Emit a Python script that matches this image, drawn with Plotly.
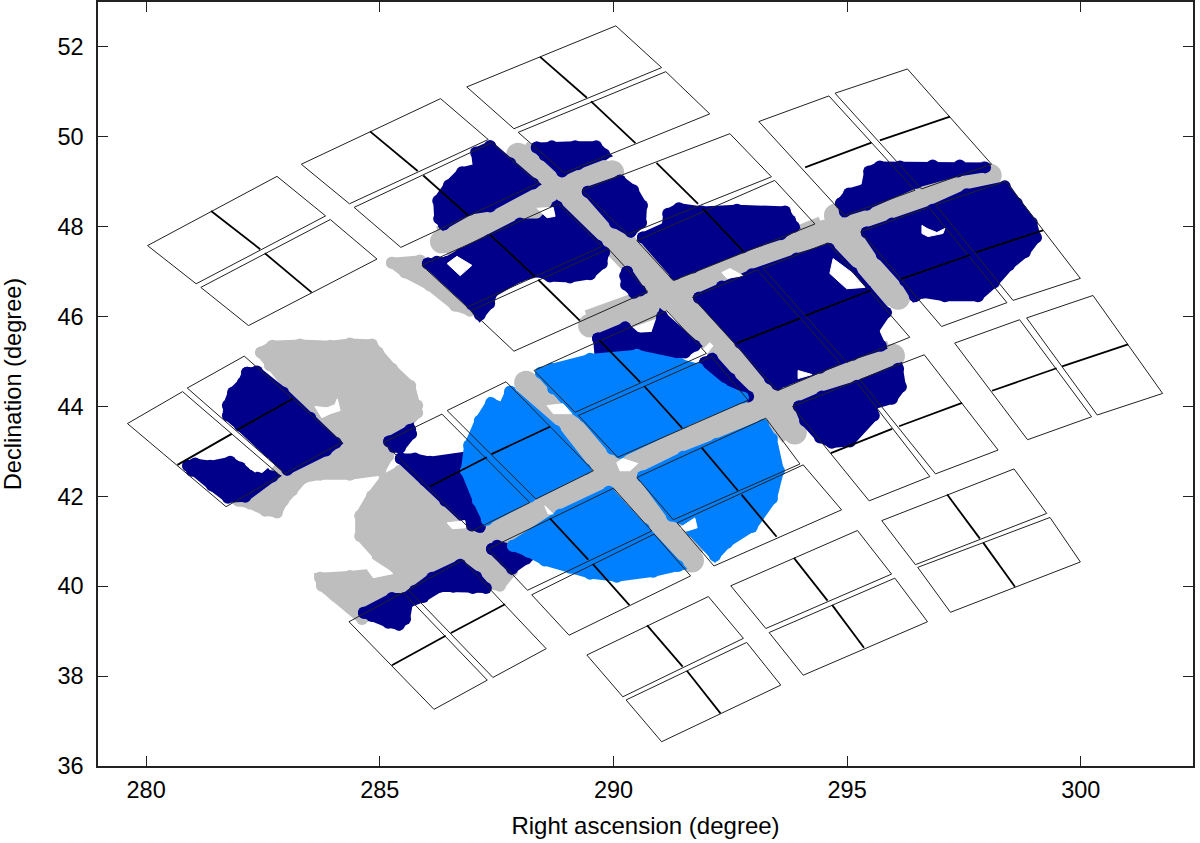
#!/usr/bin/env python3
"""Field of view sky map: CCD frames over the target samples (RA / Dec, degree)."""

import plotly.graph_objects as go

# CCD outlines, four corners each, two CCDs per module
CCD_RA = [
    [280.03, 282.80, 283.84, 281.07], [281.17, 283.94, 284.94, 282.19],
    [283.32, 286.30, 287.32, 284.35], [284.45, 287.39, 288.39, 285.45],
    [286.86, 290.05, 291.03, 287.87], [287.96, 291.12, 292.06, 288.95],
    [289.33, 292.49, 293.38, 290.30], [290.50, 293.45, 294.31, 291.28],
    [293.11, 294.61, 296.45, 294.95], [294.74, 296.29, 298.09, 296.59],
    [295.29, 296.75, 298.42, 297.02], [296.89, 298.39, 299.99, 298.55],
    [291.69, 293.08, 294.86, 293.51], [293.20, 294.59, 296.34, 294.99],
    [293.83, 295.19, 296.77, 295.47], [295.27, 296.65, 298.23, 296.89],
    [297.30, 298.69, 300.23, 298.86], [298.84, 300.26, 301.75, 300.35],
    [295.74, 298.57, 299.27, 296.46], [296.51, 299.34, 299.99, 297.21],
    [292.51, 295.22, 295.95, 293.26], [293.33, 296.02, 296.72, 294.06],
    [289.43, 292.03, 292.78, 290.20], [290.27, 292.85, 293.58, 291.03],
    [287.32, 290.00, 290.82, 288.16], [288.25, 290.87, 291.65, 289.05],
    [290.50, 293.26, 293.99, 291.28], [291.36, 294.06, 294.88, 292.15],
    [288.30, 291.14, 291.99, 289.18], [289.25, 292.10, 292.88, 290.09],
    [285.08, 286.33, 288.21, 286.97], [286.44, 287.70, 289.57, 288.34],
    [279.60, 280.78, 282.87, 281.71], [280.88, 282.10, 284.19, 282.97],
    [284.34, 285.50, 287.30, 286.16], [285.61, 286.77, 288.56, 287.42],
    [285.90, 288.82, 289.75, 286.87], [286.95, 289.89, 290.73, 287.87],
]
CCD_DEC = [
    [47.58, 49.12, 48.24, 46.73], [46.65, 48.16, 47.28, 45.80],
    [49.39, 50.85, 49.94, 48.51], [48.43, 49.87, 48.97, 47.54],
    [51.11, 52.47, 51.54, 50.18], [50.10, 51.45, 50.51, 49.20],
    [48.81, 50.07, 49.11, 47.83], [47.69, 49.03, 48.06, 46.80],
    [50.34, 50.91, 48.81, 48.25], [50.97, 51.51, 49.39, 48.84],
    [47.89, 48.43, 46.31, 45.78], [48.49, 49.01, 46.85, 46.36],
    [46.43, 47.04, 44.95, 44.35], [47.08, 47.64, 45.54, 44.98],
    [44.00, 44.56, 42.44, 41.90], [44.60, 45.15, 43.03, 42.50],
    [45.41, 45.93, 43.77, 43.26], [45.97, 46.47, 44.29, 43.81],
    [41.46, 42.61, 41.62, 40.48], [40.42, 41.53, 40.54, 39.42],
    [40.01, 41.24, 40.27, 39.06], [38.97, 40.18, 39.21, 38.02],
    [38.47, 39.77, 38.84, 37.54], [37.47, 38.75, 37.80, 36.54],
    [40.83, 42.18, 41.23, 39.91], [39.81, 41.16, 40.23, 38.91],
    [42.42, 43.74, 42.72, 41.48], [41.41, 42.70, 41.70, 40.45],
    [44.80, 46.13, 45.18, 43.87], [43.80, 45.11, 44.14, 42.87],
    [43.20, 43.83, 41.86, 41.23], [43.91, 44.55, 42.57, 41.94],
    [43.62, 44.33, 42.46, 41.77], [44.41, 45.12, 43.20, 42.51],
    [39.21, 39.86, 37.91, 37.26], [39.92, 40.58, 38.61, 37.97],
    [47.14, 48.51, 47.56, 46.21], [46.13, 47.51, 46.56, 45.23],
]

# channel boundary inside each CCD
MID_RA = [
    [281.39, 282.44], [282.54, 283.54], [284.79, 285.81], [285.93, 286.89],
    [288.43, 289.43], [289.52, 290.47], [290.92, 291.81], [291.91, 292.78],
    [294.10, 295.52], [295.70, 297.20], [296.16, 297.63], [297.75, 299.19],
    [292.64, 293.99], [294.11, 295.50], [294.65, 295.96], [296.11, 297.46],
    [298.10, 299.48], [299.60, 301.01], [297.14, 297.84], [297.91, 298.59],
    [293.86, 294.58], [294.68, 295.36], [290.72, 291.48], [291.57, 292.29],
    [288.64, 289.46], [289.56, 290.34], [291.89, 292.66], [292.74, 293.49],
    [289.70, 290.57], [290.66, 291.47], [286.07, 287.29], [287.39, 288.64],
    [280.67, 281.83], [281.95, 283.14], [285.26, 286.41], [286.52, 287.68],
    [287.36, 288.32], [288.39, 289.28],
]
MID_DEC = [
    [48.35, 47.50], [47.41, 46.54], [50.12, 49.24], [49.14, 48.25],
    [51.78, 50.87], [50.79, 49.86], [49.42, 48.51], [48.40, 47.45],
    [49.32, 49.87], [49.92, 50.45], [46.84, 47.37], [47.43, 47.92],
    [45.41, 45.96], [46.02, 46.58], [42.96, 43.50], [43.56, 44.08],
    [44.35, 44.85], [44.89, 45.38], [42.04, 41.06], [40.97, 39.99],
    [40.63, 39.68], [39.58, 38.63], [39.13, 38.21], [38.12, 37.17],
    [41.51, 40.59], [40.49, 39.58], [43.08, 42.13], [42.04, 41.10],
    [45.47, 44.54], [44.45, 43.52], [42.22, 42.87], [42.94, 43.55],
    [42.70, 43.39], [43.48, 44.17], [38.24, 38.90], [38.96, 39.60],
    [47.82, 46.89], [46.82, 45.91],
]

# grey sample: bands along the module gaps
GREY_BAND_RA = [
    [286.33, 288.21, 289.97],
    [287.96, 289.01, 290.63, 291.42, 292.98, 293.63, 293.88],
    [288.13, 289.39, 290.25, 291.04, 291.68],
    [286.93, 288.21, 290.29, 293.07, 293.67, 295.08, 295.98],
    [291.49, 294.52],
    [294.76, 294.95, 296.09],
    [295.06, 298.05],
    [289.50, 290.99],
]
GREY_BAND_DEC = [
    [47.67, 48.43, 49.21],
    [49.60, 48.81, 47.07, 46.36, 44.57, 43.84, 43.42],
    [44.53, 43.22, 42.30, 41.35, 40.57],
    [40.90, 41.57, 42.61, 43.95, 44.17, 44.78, 45.13],
    [46.60, 47.89],
    [48.25, 47.78, 46.42],
    [48.03, 49.14],
    [45.80, 46.36],
]

# grey sample: patches
GREY_RA = [
    [282.46, 282.70, 283.29, 283.94, 284.36, 284.83, 284.96, 285.26, 285.65, 285.80,
     285.80, 285.54, 285.33, 285.18, 285.01, 284.36, 283.72, 283.36, 283.12, 282.93,
     282.80, 282.55, 282.22, 281.97, 282.65, 282.97, 283.29, 283.29, 282.65],
    [285.11, 284.83, 284.58, 284.58, 284.96, 284.83, 284.36, 283.72, 283.76, 284.04,
     284.36, 284.62, 285.43, 286.61, 287.57, 287.83, 287.57, 286.93, 286.29, 285.43],
    [285.26, 285.86, 286.29, 286.93, 286.61, 286.07, 285.54],
]
GREY_DEC = [
    [45.20, 45.35, 45.38, 45.35, 45.40, 45.38, 45.20, 44.84, 44.46, 44.02,
     43.86, 43.57, 43.24, 42.90, 42.57, 42.48, 42.48, 42.41, 42.13, 41.90,
     41.64, 41.68, 41.84, 41.90, 42.39, 42.79, 43.24, 44.13, 44.91],
    [42.39, 42.01, 41.57, 41.12, 40.68, 40.28, 40.23, 40.19, 40.01, 39.79,
     39.52, 39.27, 39.68, 40.12, 40.01, 40.34, 40.90, 41.23, 41.90, 42.57],
    [47.20, 47.25, 46.80, 46.13, 46.24, 46.69, 46.98],
]

# dark blue sample
DARK_RA = [
    [282.16, 282.37, 282.93, 283.51, 284.06, 283.85, 283.02, 282.01, 281.75, 281.75, 281.86, 282.07],
    [280.90, 281.05, 281.37, 281.80, 282.01, 282.33, 282.52, 282.70, 282.12, 281.75, 281.41, 280.98],
    [285.20, 285.65, 285.67, 285.43, 285.30],
    [285.45, 285.75, 286.07, 286.93, 287.57, 287.14, 286.97, 286.40, 285.97],
    [287.40, 287.51, 288.00, 288.13, 287.83, 287.68],
    [284.66, 285.26, 285.54, 285.75, 286.12, 286.72, 287.06, 287.27, 286.99, 286.57,
     286.29, 285.93, 285.60, 285.54, 285.41, 285.18, 284.83],
    [287.36, 287.79, 288.28, 287.36, 286.93, 286.37, 286.27, 286.25, 286.48, 286.76, 287.10, 287.06],
    [288.36, 288.68, 289.18, 289.63, 289.80, 289.24, 288.90, 288.53],
    [289.45, 290.14, 290.42, 290.61, 290.59, 290.37, 290.03],
    [286.03, 286.22, 286.44, 286.74, 287.36, 288.00, 288.45, 288.79, 289.65, 289.80,
     289.75, 289.50, 289.07, 288.64, 288.39, 288.00, 287.40, 287.34, 287.14, 286.97],
    [290.29, 290.57, 290.44, 290.27, 290.25],
    [289.67, 290.25, 290.50, 290.89, 291.04, 291.74, 291.53, 290.57, 289.71],
    [290.63, 291.14, 291.17, 291.40, 291.89, 292.64, 293.67, 293.78, 293.86, 293.58,
     292.77, 291.70, 291.32],
    [291.83, 292.32, 292.96, 293.92, 294.46, 294.61, 295.10, 295.40, 295.83, 295.57,
     295.72, 295.12, 294.42, 293.67, 293.50, 293.35, 292.71],
    [293.97, 294.46, 295.21, 296.09, 296.15, 295.96, 295.53, 295.57, 295.06, 294.67, 294.42, 294.10],
    [294.87, 295.04, 295.40, 295.47, 295.70, 296.13, 296.83, 297.41, 297.95, 297.37, 296.49, 295.42, 294.95],
    [295.42, 295.96, 296.83, 297.56, 298.37, 298.63, 298.95, 299.04, 298.80, 298.46,
     298.14, 297.80, 297.09, 296.62, 296.45, 296.24, 295.74],
    [291.96, 292.11, 292.49, 292.88, 292.49],
]
DARK_DEC = [
    [44.75, 44.78, 44.31, 43.75, 43.19, 43.02, 42.59, 43.57, 43.80, 44.02, 44.31, 44.53],
    [42.68, 42.73, 42.68, 42.77, 42.64, 42.39, 42.53, 42.44, 41.99, 41.97, 42.24, 42.57],
    [43.22, 43.48, 43.39, 43.08, 43.10],
    [42.84, 42.84, 42.77, 42.90, 42.35, 41.32, 41.35, 41.90, 42.35],
    [40.83, 40.90, 40.79, 40.61, 40.39, 40.57],
    [39.41, 39.74, 39.74, 39.90, 40.19, 40.48, 40.21, 39.96, 39.96, 39.99,
     39.99, 39.76, 39.63, 39.27, 39.14, 39.19, 39.34],
    [49.79, 49.41, 48.96, 48.45, 48.38, 48.05, 48.18, 48.58, 48.92, 49.21, 49.30, 49.65],
    [49.76, 49.79, 49.79, 49.79, 49.61, 49.39, 49.23, 49.59],
    [48.78, 49.03, 48.81, 48.47, 48.09, 47.89, 48.09],
    [47.18, 47.22, 47.22, 47.40, 47.71, 48.07, 48.07, 48.45, 47.58, 47.43,
     47.18, 46.94, 46.87, 46.89, 47.00, 46.89, 46.53, 46.29, 46.04, 46.27],
    [47.00, 46.58, 46.53, 46.71, 46.91],
    [45.51, 45.76, 45.53, 45.55, 46.00, 45.35, 45.20, 44.91, 45.02],
    [47.76, 48.00, 48.29, 48.41, 48.34, 48.38, 48.34, 48.14, 48.00, 47.83,
     47.54, 47.09, 46.94],
    [46.42, 46.67, 46.94, 47.29, 47.45, 47.51, 46.98, 46.58, 46.09, 45.69,
     45.35, 45.15, 44.86, 44.57, 44.49, 44.62, 45.42],
    [44.00, 44.22, 44.46, 44.84, 44.44, 44.17, 44.04, 43.80, 43.22, 43.19, 43.31, 43.68],
    [48.52, 48.74, 48.85, 49.23, 49.34, 49.34, 49.36, 49.36, 49.32, 49.23, 48.98, 48.49, 48.34],
    [47.87, 48.07, 48.38, 48.72, 48.90, 48.52, 48.09, 47.76, 47.43, 47.14,
     46.76, 46.45, 46.45, 46.53, 46.45, 46.80, 47.38],
    [44.98, 45.06, 44.62, 44.22, 44.46],
]

# light blue sample
LIGHT_RA = [
    [288.45, 288.68, 289.50, 290.50, 291.42, 291.81, 292.32, 292.77, 291.49, 290.78,
     290.14, 289.97, 289.39, 289.11, 288.71],
    [287.79, 287.64, 287.38, 287.14, 286.91, 286.84, 287.10, 287.29, 288.21, 289.39, 288.75],
    [290.63, 291.49, 292.21, 293.20, 293.39, 293.54, 293.39, 292.96, 292.43, 292.17,
     291.68, 291.64, 291.25],
    [287.85, 288.64, 288.86, 289.90, 290.65, 291.38, 290.85, 290.07, 289.50, 289.07, 288.53, 288.17],
]
LIGHT_DEC = [
    [44.75, 44.84, 45.06, 45.15, 44.95, 44.84, 44.40, 44.20, 43.64, 43.31,
     42.97, 43.06, 43.77, 43.97, 44.40],
    [44.33, 43.97, 44.08, 43.68, 43.13, 42.57, 41.90, 41.48, 41.99, 42.61, 43.46],
    [42.44, 42.88, 43.17, 43.59, 43.28, 42.57, 41.95, 41.32, 40.97, 40.68,
     41.23, 41.41, 41.57],
    [40.90, 41.39, 41.59, 42.10, 41.28, 40.45, 40.32, 40.21, 40.28, 40.41, 40.57, 40.77],
]

# uncovered gaps inside the samples
GAP_RA = [
    [283.61, 283.87, 284.04, 284.09, 284.15, 283.94, 283.76],
    [282.12, 282.40, 282.61, 282.65, 282.48, 282.22],
    [284.68, 284.86, 285.28, 285.22, 284.79],
    [286.44, 286.65, 286.97, 286.72],
    [288.36, 288.71, 288.75, 288.58],
    [294.70, 294.63, 294.99, 295.38, 295.10],
    [293.95, 294.25, 293.95],
    [296.60, 296.71, 296.92, 297.09, 297.05, 296.73, 296.60],
    [288.58, 288.92, 289.11, 288.71],
    [290.07, 290.20, 290.52, 290.35, 290.14],
    [291.42, 291.74, 291.79, 291.57],
    [292.32, 292.49, 292.77, 292.43],
    [291.89, 292.06, 292.13, 291.96],
    [286.44, 286.82, 286.84, 286.55],
    [288.53, 288.71, 288.60],
]
GAP_DEC = [
    [44.00, 43.97, 44.04, 44.17, 43.91, 43.84, 43.75],
    [42.86, 42.73, 42.84, 42.68, 42.53, 42.61],
    [40.45, 40.19, 40.28, 40.34, 40.63],
    [47.18, 47.34, 47.14, 46.91],
    [48.41, 48.43, 48.23, 48.20],
    [47.29, 46.96, 46.62, 46.65, 46.98],
    [44.80, 44.71, 44.62],
    [48.03, 47.96, 47.87, 47.96, 47.85, 47.78, 47.85],
    [44.02, 44.06, 43.84, 43.84],
    [42.75, 42.84, 42.73, 42.57, 42.57],
    [41.30, 41.52, 41.30, 41.23],
    [46.98, 47.07, 46.91, 46.85],
    [45.24, 45.42, 45.35, 45.13],
    [41.41, 41.46, 41.30, 41.28],
    [41.79, 41.61, 41.61],
]

GREY = "#bebebe"
DARK = "#00008b"
LIGHT = "#0080ff"
FONT = "Liberation Sans"


def join(parts, close=False):
    out = []
    for p in parts:
        out += list(p)
        if close:
            out.append(p[0])
        out.append(None)
    return out[:-1]


def patch(ra, dec, color, dot=12, edge=10):
    return go.Scatter(x=join(ra, True), y=join(dec, True), mode="lines+markers", fill="toself",
                      fillcolor=color, line=dict(color=color, width=edge),
                      marker=dict(color=color, size=dot), hoverinfo="skip")


fig = go.Figure()
fig.add_trace(go.Scatter(x=join(GREY_BAND_RA), y=join(GREY_BAND_DEC), mode="lines+markers",
                         line=dict(color=GREY, width=32), marker=dict(color=GREY, size=24),
                         hoverinfo="skip"))
fig.add_trace(patch(GREY_RA, GREY_DEC, GREY))
fig.add_trace(patch(DARK_RA, DARK_DEC, DARK))
fig.add_trace(patch(LIGHT_RA, LIGHT_DEC, LIGHT))
fig.add_trace(go.Scatter(x=join(GAP_RA, True), y=join(GAP_DEC, True), mode="lines", fill="toself",
                         fillcolor="white", line=dict(color="white", width=1), hoverinfo="skip"))
fig.add_trace(go.Scatter(x=join(CCD_RA, True), y=join(CCD_DEC, True), mode="lines",
                         line=dict(color="#222222", width=1), hoverinfo="skip"))
fig.add_trace(go.Scatter(x=join(MID_RA), y=join(MID_DEC), mode="lines",
                         line=dict(color="black", width=1.8), hoverinfo="skip"))

axis = dict(showgrid=False, zeroline=False, showline=True, linecolor="#222222", linewidth=1.5,
            mirror="allticks", ticks="inside", ticklen=10, tickwidth=1.2, tickcolor="#222222",
            tickfont=dict(family=FONT, size=23.5, color="black"))
fig.update_xaxes(range=[278.97, 302.4], tick0=280, dtick=5, ticklabelstandoff=2,
                 title=dict(text="Right ascension (degree)", standoff=15,
                            font=dict(family=FONT, size=24, color="black")), **axis)
fig.update_yaxes(range=[36, 53], tick0=36, dtick=2, ticklabelstandoff=8,
                 title=dict(text="Declination (degree)", standoff=29,
                            font=dict(family=FONT, size=23.6, color="black")), **axis)
fig.update_layout(width=1200, height=843, showlegend=False, plot_bgcolor="white",
                  paper_bgcolor="white", margin=dict(l=98, r=7, t=2, b=77, autoexpand=False))
fig.write_html("out.html", config={"displayModeBar": False},
               post_script="document.body.style.margin='0';")
